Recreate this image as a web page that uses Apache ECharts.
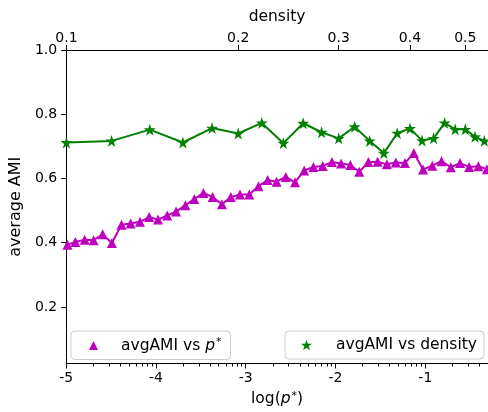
<!DOCTYPE html>
<html>
<head>
<meta charset="utf-8">
<script src="https://cdn.jsdelivr.net/npm/echarts@6/dist/echarts.min.js"></script>
<style>html,body{margin:0;padding:0;background:#fff}#c{width:488px;height:412px}</style>
</head>
<body>
<div id="c"></div>
<script>
// log(p*) positions and average AMI for the p* series
const logP = [-4.986,-4.898,-4.794,-4.695,-4.593,-4.491,-4.384,-4.282,-4.178,-4.076,
  -3.977,-3.875,-3.776,-3.672,-3.573,-3.471,-3.369,-3.265,-3.166,-3.064,
  -2.961,-2.858,-2.756,-2.657,-2.554,-2.451,-2.349,-2.246,-2.143,-2.041,
  -1.938,-1.835,-1.736,-1.634,-1.531,-1.428,-1.329,-1.227,-1.128,-1.025,
  -0.922,-0.820,-0.717,-0.614,-0.512,-0.409,-0.314];
const amiP = [0.394,0.402,0.409,0.408,0.426,0.399,0.456,0.460,0.465,0.480,
  0.472,0.485,0.497,0.517,0.536,0.555,0.542,0.520,0.542,0.550,
  0.550,0.576,0.595,0.590,0.605,0.588,0.625,0.636,0.639,0.651,
  0.647,0.642,0.621,0.651,0.652,0.644,0.650,0.648,0.679,0.628,
  0.640,0.654,0.635,0.648,0.636,0.638,0.629];
// density and average AMI for the density series
const density = [0.10,0.12,0.14,0.16,0.18,0.20,0.22,0.24,0.26,0.28,0.30,0.32,
  0.34,0.36,0.38,0.40,0.42,0.44,0.46,0.48,0.50,0.52,0.54];
const amiD = [0.712,0.717,0.752,0.712,0.757,0.740,0.773,0.710,0.772,0.744,0.725,0.761,
  0.717,0.679,0.741,0.756,0.718,0.725,0.773,0.753,0.753,0.730,0.717];
// ticks
const logTicks = [-5,-4,-3,-2,-1];
const densityTicks = [0.1,0.2,0.3,0.4,0.5];
const yTicks = [0.2,0.4,0.6,0.8,1.0];

const X_MIN = -5, X_MAX = -0.302;
const D_MIN = 0.0999, D_MAX = 0.548;
const minorTicks = [];
for (let d = -5; d < 0; d++) for (let m = 2; m <= 9; m++) {
  const v = d + Math.log10(m);
  if (v < X_MAX) minorTicks.push(v);
}

const FONT = 'DejaVu Sans';
const STAR = 'path://M0,-1L0.2245,-0.309L0.951,-0.309L0.363,0.118L0.588,0.809L0,0.382L-0.588,0.809L-0.363,0.118L-0.951,-0.309L-0.2245,-0.309Z';
const rich = {
  i: {fontFamily: FONT, fontSize: 15.5, fontStyle: 'italic', color: '#000'},
  s: {fontFamily: FONT, fontSize: 11, color: '#000', verticalAlign: 'top', padding: [0,0,6,1]}
};

const chart = echarts.init(document.getElementById('c'), null, {renderer: 'canvas'});
chart.setOption({
  animation: false,
  backgroundColor: '#fff',
  grid: {left: 63, top: 50, right: -2, bottom: 43, containLabel: false},
  legend: [
    {data: [{name: 'p', icon: 'triangle'}], left: 71, top: 331, orient: 'horizontal',
     padding: [6, 9, 6, 18], itemWidth: 9, itemHeight: 9,
     backgroundColor: 'rgba(255,255,255,0.8)', borderColor: '#cccccc', borderWidth: 1, borderRadius: 4,
     formatter: () => 'avgAMI vs {i|p}{s|*}',
     textStyle: {fontFamily: FONT, fontSize: 15.5, color: '#000', padding: [0,0,0,18], rich: rich}},
    {data: [{name: 'd', icon: STAR}], left: 285, top: 331, orient: 'horizontal',
     padding: [6, 7, 6, 16], itemWidth: 11, itemHeight: 11,
     backgroundColor: 'rgba(255,255,255,0.8)', borderColor: '#cccccc', borderWidth: 1, borderRadius: 4,
     formatter: () => 'avgAMI vs density',
     textStyle: {fontFamily: FONT, fontSize: 15.5, color: '#000', padding: [0,0,0,19]}}
  ],
  xAxis: [
    {type: 'value', position: 'bottom', min: X_MIN, max: X_MAX,
     name: 'log({i|p}{s|*})', nameLocation: 'middle', nameGap: 27,
     nameTextStyle: {fontFamily: FONT, fontSize: 15.5, color: '#000', rich: rich},
     axisLine: {lineStyle: {color: '#000', width: 1}},
     axisTick: {customValues: logTicks, length: 5, lineStyle: {color: '#000', width: 1}},
     axisLabel: {customValues: logTicks, margin: 8, fontFamily: FONT, fontSize: 14, color: '#000',
                 formatter: v => String(Math.round(v))},
     splitLine: {show: false}},
    {type: 'value', position: 'bottom', min: X_MIN, max: X_MAX,
     axisLine: {show: false},
     axisTick: {customValues: minorTicks, length: 3, lineStyle: {color: '#000', width: 1}},
     axisLabel: {show: false}, splitLine: {show: false}},
    {type: 'log', logBase: 10, position: 'top', min: D_MIN, max: D_MAX,
     name: 'density', nameLocation: 'middle', nameGap: 25,
     nameTextStyle: {fontFamily: FONT, fontSize: 15.5, color: '#000'},
     axisLine: {lineStyle: {color: '#000', width: 1}},
     axisTick: {customValues: densityTicks, length: 5, lineStyle: {color: '#000', width: 1}},
     axisLabel: {customValues: densityTicks, margin: 5, fontFamily: FONT, fontSize: 14, color: '#000',
                 formatter: v => v.toFixed(1)},
     minorTick: {show: false}, splitLine: {show: false}}
  ],
  yAxis: [
    {type: 'value', min: 0.024, max: 1.0,
     name: 'average AMI', nameLocation: 'middle', nameGap: 38, nameRotate: 90,
     nameTextStyle: {fontFamily: FONT, fontSize: 16, color: '#000'},
     axisLine: {show: true, lineStyle: {color: '#000', width: 1}},
     axisTick: {show: true, customValues: yTicks, length: 5, lineStyle: {color: '#000', width: 1}},
     axisLabel: {customValues: yTicks, margin: 9, fontFamily: FONT, fontSize: 14, color: '#000',
                 formatter: v => v.toFixed(1)},
     splitLine: {show: false}}
  ],
  series: [
    {name: 'p', type: 'line', xAxisIndex: 0, yAxisIndex: 0,
     data: logP.map((x, i) => [x, amiP[i]]),
     symbol: 'triangle', symbolSize: 10, showAllSymbol: true,
     itemStyle: {color: '#bf00bf'}, lineStyle: {color: '#bf00bf', width: 2}},
    {name: 'd', type: 'line', xAxisIndex: 2, yAxisIndex: 0,
     data: density.map((x, i) => [x, amiD[i]]),
     symbol: STAR, symbolSize: 12, showAllSymbol: true,
     itemStyle: {color: '#008000'}, lineStyle: {color: '#008000', width: 2}}
  ]
});
</script>
</body>
</html>
